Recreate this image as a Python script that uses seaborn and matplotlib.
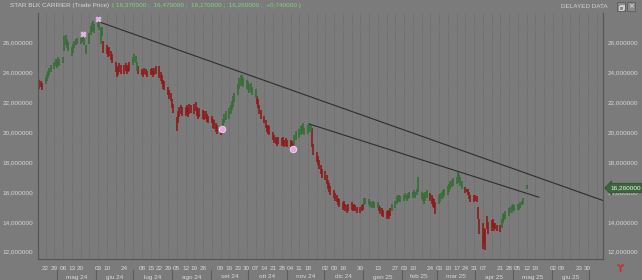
import numpy as np
import pandas as pd
import matplotlib
matplotlib.use("Agg")
import matplotlib.pyplot as plt
import matplotlib.dates as mdates
import matplotlib.transforms as mtrans
from matplotlib.patches import Rectangle
from matplotlib.ticker import FixedLocator, FuncFormatter
import seaborn as sns

# ---------------- data ----------------
title_name = "STAR BLK CARRIER (Trade Price)"
title_values = "( 16,370000 ;  16,470000 ;  16,170000 ;  16,260000 ;  +0,740000 )"
last_price = 16.26

first_day, last_day = "2024-04-17", "2025-05-12"

day_low = [
    22.9, 23.0, 22.8,
    23.2, 23.4, 23.6, 23.8, 24.0,
    24.2, 24.4, 24.3, 24.5, 24.4,
    24.6, 25.4, 25.8, 25.6, 25.4,
    25.1, 25.3, 25.6, 25.8, 25.9,
    25.9, 26.0, 26.1, 25.8, 25.2,
    25.9, 26.5, 26.7, 26.8, 26.6,
    27.0, 26.8, 25.9, 26.4, 25.3,
    25.2, 25.0, 25.1, 24.8, 24.6,
    24.0, 23.7, 23.8, 24.0, 23.9,
    23.9, 24.1, 23.9, 24.0, 24.1,
    24.5, 24.7, 24.6, 24.1, 23.9,
    23.8, 23.7, 23.9, 23.8, 23.7,
    23.8, 23.9, 23.7, 23.8, 23.9,
    23.6, 23.4, 23.2, 22.9, 22.8,
    22.5, 22.2, 22.1, 21.6, 21.3,
    20.1, 20.6, 21.0, 21.2, 21.1,
    21.1, 21.2, 21.0, 21.2, 21.3,
    21.2, 21.4, 21.1, 20.9, 21.0,
    20.9, 20.8, 20.9, 20.7, 20.6,
    20.6, 20.3, 20.2, 20.0, 19.9,
    19.8, 19.9, 20.2, 20.6, 20.8,
    20.9, 21.2, 21.5, 21.7, 22.0,
    22.5, 22.9, 23.1, 23.2, 23.0,
    22.9, 22.8, 22.6, 22.7, 22.5,
    22.3, 21.9, 21.6, 21.2, 20.9,
    20.6, 20.3, 20.0, 19.9, 19.8,
    19.5, 19.3, 19.2, 19.1, 19.2,
    19.1, 19.2, 19.0, 19.1, 19.0,
    19.0, 18.9, 18.9, 19.1, 19.5,
    19.6, 19.8, 19.9, 20.0, 19.8,
    19.9, 20.0, 20.0, 19.0, 18.5,
    18.0, 17.8, 17.5, 17.2, 16.9,
    16.8, 16.5, 16.2, 16.0, 15.8,
    15.6, 15.4, 15.3, 15.1, 15.0,
    14.8, 14.9, 14.7, 14.6, 14.7,
    14.8, 14.7, 14.8, 14.7, 14.6,
    14.6, 14.7, 14.8, 15.1, 15.2,
    15.1, 15.0, 14.9, 15.0, 14.9,
    14.9, 14.7, 14.5, 14.4, 14.3,
    14.2, 14.3, 14.2, 14.4, 14.7,
    14.9, 15.2, 15.3, 15.4, 15.3,
    15.4, 15.5, 15.4, 15.5, 15.6,
    15.6, 15.7, 15.6, 15.8, 16.0,
    15.5, 15.4, 15.2, 15.4, 15.6,
    15.4, 15.2, 15.0, 14.9, 14.55,
    15.2, 15.3, 15.5, 15.6, 15.7,
    15.8, 16.0, 16.2, 16.3, 16.4,
    16.5, 16.7, 16.6, 16.4, 16.2,
    15.9, 16.0, 15.8, 15.5, 15.3,
    15.3, 15.4, 15.3, 14.2, 13.2,
    12.2, 12.5, 12.1, 13.5, 13.2,
    13.4, 13.6, 13.4, 13.5, 13.4,
    13.3, 13.6, 13.9, 14.1, 14.2,
    14.4, 14.6, 14.6, 14.8, 14.7,
    14.8, 14.8, 14.9, 15.1, 15.2,
    16.17,
]

day_high = [
    23.5, 23.4, 23.3,
    23.7, 23.9, 24.1, 24.3, 24.5,
    24.7, 24.9, 24.8, 25.0, 24.9,
    25.0, 26.4, 26.5, 26.2, 26.0,
    25.7, 25.9, 26.1, 26.2, 26.3,
    26.3, 26.5, 26.6, 26.3, 25.8,
    26.6, 27.1, 27.3, 27.4, 27.2,
    27.6, 27.3, 27.0, 27.0, 26.1,
    25.8, 25.6, 25.7, 25.4, 25.2,
    24.7, 24.3, 24.4, 24.6, 24.5,
    24.5, 24.6, 24.4, 24.5, 24.7,
    25.0, 25.2, 25.1, 24.7, 24.4,
    24.2, 24.1, 24.3, 24.2, 24.1,
    24.2, 24.3, 24.1, 24.3, 24.4,
    24.4, 24.0, 23.8, 23.5, 23.4,
    23.0, 22.8, 22.6, 22.2, 21.9,
    21.0, 21.4, 21.7, 21.8, 21.7,
    21.7, 21.8, 21.6, 21.9, 21.8,
    21.9, 22.0, 21.7, 21.5, 21.6,
    21.5, 21.4, 21.4, 21.2, 21.1,
    21.1, 20.9, 20.8, 20.6, 20.5,
    20.4, 20.4, 20.9, 21.2, 21.4,
    21.6, 21.8, 22.1, 22.4, 22.6,
    23.2, 23.6, 23.8, 23.8, 23.6,
    23.5, 23.4, 23.2, 23.3, 23.0,
    22.9, 22.4, 22.2, 21.8, 21.5,
    21.1, 20.8, 20.5, 20.5, 20.4,
    20.0, 19.8, 19.7, 19.6, 19.7,
    19.6, 19.7, 19.5, 19.6, 19.5,
    19.5, 19.4, 19.3, 19.8, 20.1,
    20.2, 20.4, 20.5, 20.6, 20.3,
    20.5, 20.6, 20.5, 20.3, 19.2,
    18.7, 18.4, 18.1, 17.8, 17.5,
    17.4, 17.1, 16.8, 16.6, 16.4,
    16.1, 15.9, 15.8, 15.6, 15.5,
    15.3, 15.4, 15.2, 15.1, 15.2,
    15.3, 15.1, 15.2, 15.1, 15.0,
    15.0, 15.1, 15.2, 15.6, 15.6,
    15.5, 15.4, 15.3, 15.4, 15.3,
    15.3, 15.1, 15.0, 14.9, 14.8,
    14.7, 14.8, 14.7, 14.9, 15.2,
    15.4, 15.7, 15.8, 15.8, 15.7,
    15.8, 15.9, 15.8, 15.9, 16.0,
    16.0, 16.1, 16.0, 16.2, 17.0,
    16.0, 15.9, 15.8, 16.0, 16.1,
    15.9, 15.8, 15.6, 15.5, 15.3,
    15.8, 15.9, 16.0, 16.1, 16.2,
    16.4, 16.5, 16.7, 16.8, 16.9,
    17.0, 17.3, 17.2, 17.0, 16.7,
    16.3, 16.2, 16.2, 16.0, 15.8,
    15.8, 15.8, 15.7, 15.0, 14.2,
    13.9, 13.6, 13.5, 14.4, 14.0,
    14.1, 14.2, 13.9, 13.9, 13.8,
    13.8, 14.2, 14.5, 14.6, 14.7,
    14.9, 15.0, 15.1, 15.2, 15.1,
    15.2, 15.1, 15.3, 15.4, 15.6,
    16.47,
]

# trend regime changes (bar colouring)
trend_start = ["2024-04-17", "2024-04-22", "2024-06-07", "2024-07-01", "2024-07-05",
               "2024-09-11", "2024-10-08", "2024-11-07", "2024-11-21", "2025-01-02",
               "2025-01-14", "2025-01-24", "2025-02-24", "2025-03-03", "2025-03-24",
               "2025-04-22"]
trend_state = ["down", "up", "down", "up", "down", "up", "down", "up", "down", "up",
               "down", "up", "down", "up", "down", "up"]

# drawn trendlines
trend_a_dates = ["2024-06-03", "2025-07-12"]
trend_a_vals = [27.39, 15.43]
trend_b_dates = ["2024-11-19", "2025-05-22"]
trend_b_vals = [20.54, 15.64]

# signal markers
circle_dates = ["2024-09-10", "2024-11-06"]
circle_vals = [20.2, 18.87]
cross_dates = ["2024-05-22", "2024-06-03"]
cross_vals = [26.55, 27.55]

# axis labels
day_ticks = ["2024-04-22", "2024-04-29", "2024-05-06", "2024-05-13", "2024-05-20",
             "2024-06-03", "2024-06-10", "2024-06-24", "2024-07-08", "2024-07-15",
             "2024-07-22", "2024-07-29", "2024-08-05", "2024-08-12", "2024-08-19",
             "2024-08-26", "2024-09-09", "2024-09-16", "2024-09-23", "2024-09-30",
             "2024-10-07", "2024-10-14", "2024-10-21", "2024-10-28", "2024-11-04",
             "2024-11-11", "2024-11-18", "2024-12-02", "2024-12-09", "2024-12-16",
             "2024-12-30", "2025-01-13", "2025-01-27", "2025-02-03", "2025-02-10",
             "2025-02-24", "2025-03-03", "2025-03-10", "2025-03-17", "2025-03-24",
             "2025-03-31", "2025-04-07", "2025-04-21", "2025-04-28", "2025-05-05",
             "2025-05-12", "2025-05-19", "2025-06-02", "2025-06-09", "2025-06-23",
             "2025-06-30"]
month_starts = ["2024-05-01", "2024-06-01", "2024-07-01", "2024-08-01", "2024-09-01",
                "2024-10-01", "2024-11-01", "2024-12-01", "2025-01-01", "2025-02-01",
                "2025-03-01", "2025-04-01", "2025-05-01", "2025-06-01", "2025-07-01"]
month_labels = ["mag 24", "giu 24", "lug 24", "ago 24", "set 24", "ott 24", "nov 24",
                "dic 24", "gen 25", "feb 25", "mar 25", "apr 25", "mag 25", "giu 25"]
price_ticks = [12, 14, 16, 18, 20, 22, 24, 26]

# ---------------- style ----------------
W, H = 642, 280
BG = "#7b7b7b"
GREEN = "#376d37"
RED = "#8c1b1b"
TXT = "#d6d6d6"
FONT = ["Liberation Sans", "DejaVu Sans"]
FS = 4.6

sns.set_style("dark", rc={"axes.facecolor": BG, "figure.facecolor": BG})
plt.rcParams["font.family"] = FONT

fig = plt.figure(figsize=(W / 100, H / 100), dpi=100)
ax = fig.add_axes([38 / W, 1 - 259 / H, (603 - 38) / W, (259 - 13) / H])
ax.set_facecolor(BG)

def fx(px):
    return px / W

def fy(py):
    return 1 - py / H

dates = pd.bdate_range(first_day, last_day)
assert len(dates) == len(day_low) == len(day_high)
trend_idx = np.searchsorted(pd.to_datetime(trend_start).values, dates.values, side="right") - 1
trend = np.array(trend_state)[trend_idx]

n = len(dates)
bars = pd.DataFrame({
    "date": np.repeat(dates.values, 2),
    "price": np.column_stack([day_low, day_high]).ravel(),
    "day": np.repeat(np.arange(n), 2),
    "trend": np.repeat(trend, 2),
})

# vertical dotted weekly grid
mondays = pd.date_range("2024-04-22", "2025-07-07", freq="W-MON")
for d in mondays:
    ax.axvline(mdates.date2num(d), color="#656565", lw=0.6, ls=(0, (1.2, 1.6)), zorder=0.5)

sns.lineplot(data=bars, x="date", y="price", units="day", estimator=None, hue="trend",
             palette={"up": GREEN, "down": RED}, lw=1.2, legend=False, sort=False,
             ax=ax, zorder=2)
for line in ax.lines:
    line.set_solid_capstyle("butt")

sns.lineplot(x=pd.to_datetime(trend_a_dates), y=trend_a_vals, color="#2e2e2e", lw=0.8, ax=ax, zorder=3)
sns.lineplot(x=pd.to_datetime(trend_b_dates), y=trend_b_vals, color="#2e2e2e", lw=0.8, ax=ax, zorder=3)

sns.scatterplot(x=pd.to_datetime(circle_dates), y=circle_vals, s=22, color="#e2a6e2",
                edgecolor="#f6dcf6", linewidth=0.6, ax=ax, zorder=4)
sns.scatterplot(x=pd.to_datetime(cross_dates), y=cross_vals, s=16, marker="X",
                color="#e6b2e6", edgecolor="#f3d6f3", linewidth=0.3, ax=ax, zorder=4)

ax.set_xlim(mdates.date2num(pd.Timestamp("2024-04-15 20:00")),
            mdates.date2num(pd.Timestamp("2025-07-12 04:00")))
ax.set_ylim(11.515, 27.96)
ax.grid(False)
ax.set_xlabel("")
ax.set_ylabel("")

# x tick labels
tick_nums = [mdates.date2num(pd.Timestamp(d)) for d in day_ticks]
ax.xaxis.set_major_locator(FixedLocator(tick_nums))
ax.set_xticklabels([pd.Timestamp(d).strftime("%d") for d in day_ticks])
ax.tick_params(axis="x", length=0, pad=5.2, labelsize=FS, labelcolor=TXT)

# y tick labels on both sides
ax.set_yticks(price_ticks)
ax.yaxis.set_major_formatter(FuncFormatter(lambda v, p: f"{v:.6f}".replace(".", ",")))
ax.tick_params(axis="y", length=0, pad=3.5, labelsize=FS, labelcolor=TXT,
               left=True, right=True, labelleft=True, labelright=True)

for side in ["left", "bottom", "right"]:
    ax.spines[side].set_visible(True)
    ax.spines[side].set_color("#575757")
    ax.spines[side].set_linewidth(0.9)
ax.spines["top"].set_visible(False)

# month labels and separators
trans = mtrans.blended_transform_factory(ax.transData, ax.transAxes)
ms = [mdates.date2num(pd.Timestamp(d)) for d in month_starts]
for i, lab in enumerate(month_labels):
    ax.text((ms[i] + ms[i + 1]) / 2, (259 - 277) / 246, lab, transform=trans,
            ha="center", va="center", fontsize=FS, color=TXT, clip_on=False)
for m in ms:
    ax.plot([m, m], [(259 - 270) / 246, (259 - 281) / 246], transform=trans,
            color="#5c5c5c", lw=0.8, clip_on=False)

# header texts
fig.text(fx(9.5), fy(6), title_name, fontsize=FS, color=TXT, va="center", ha="left")
fig.text(fx(111.5), fy(6), title_values, fontsize=FS, color="#86cf86", va="center", ha="left")
fig.text(fx(608), fy(6), "DELAYED DATA", fontsize=FS, color="#d0d0d0", va="center", ha="right")

# window icons (restore / close)
for x0 in (616.5, 626.5):
    fig.patches.append(Rectangle((fx(x0), fy(11)), 8.5 / W, 9 / H, transform=fig.transFigure,
                                 facecolor="#8a8a8a", edgecolor="#5e5e5e", lw=0.6))
for (rx, ry) in [(619.5, 8.5), (618.5, 9.8)]:
    fig.patches.append(Rectangle((fx(rx), fy(ry)), 4 / W, 4 / H, transform=fig.transFigure,
                                 facecolor="#8a8a8a", edgecolor="#ececec", lw=0.5))
fig.text(fx(630.75), fy(6.5), "\u00d7", fontsize=5, color="#ececec", ha="center",
         va="center", family=["DejaVu Sans"])

# last price tag
fig.text(fx(610), fy(188), f"{last_price:.6f}".replace(".", ","), fontsize=FS, color="#f0f0f0",
         ha="left", va="center", zorder=10,
         bbox=dict(boxstyle="larrow,pad=0.35", fc="#3b663b", ec="#2c4c2c", lw=0.5))

# bottom-right icon
fig.text(fx(620), fy(268.5), "\u03d2", fontsize=7, color="#c43030", ha="center", va="center",
         family=["DejaVu Sans"], fontweight="bold")

fig.savefig("out.png", dpi=100, facecolor=BG)
